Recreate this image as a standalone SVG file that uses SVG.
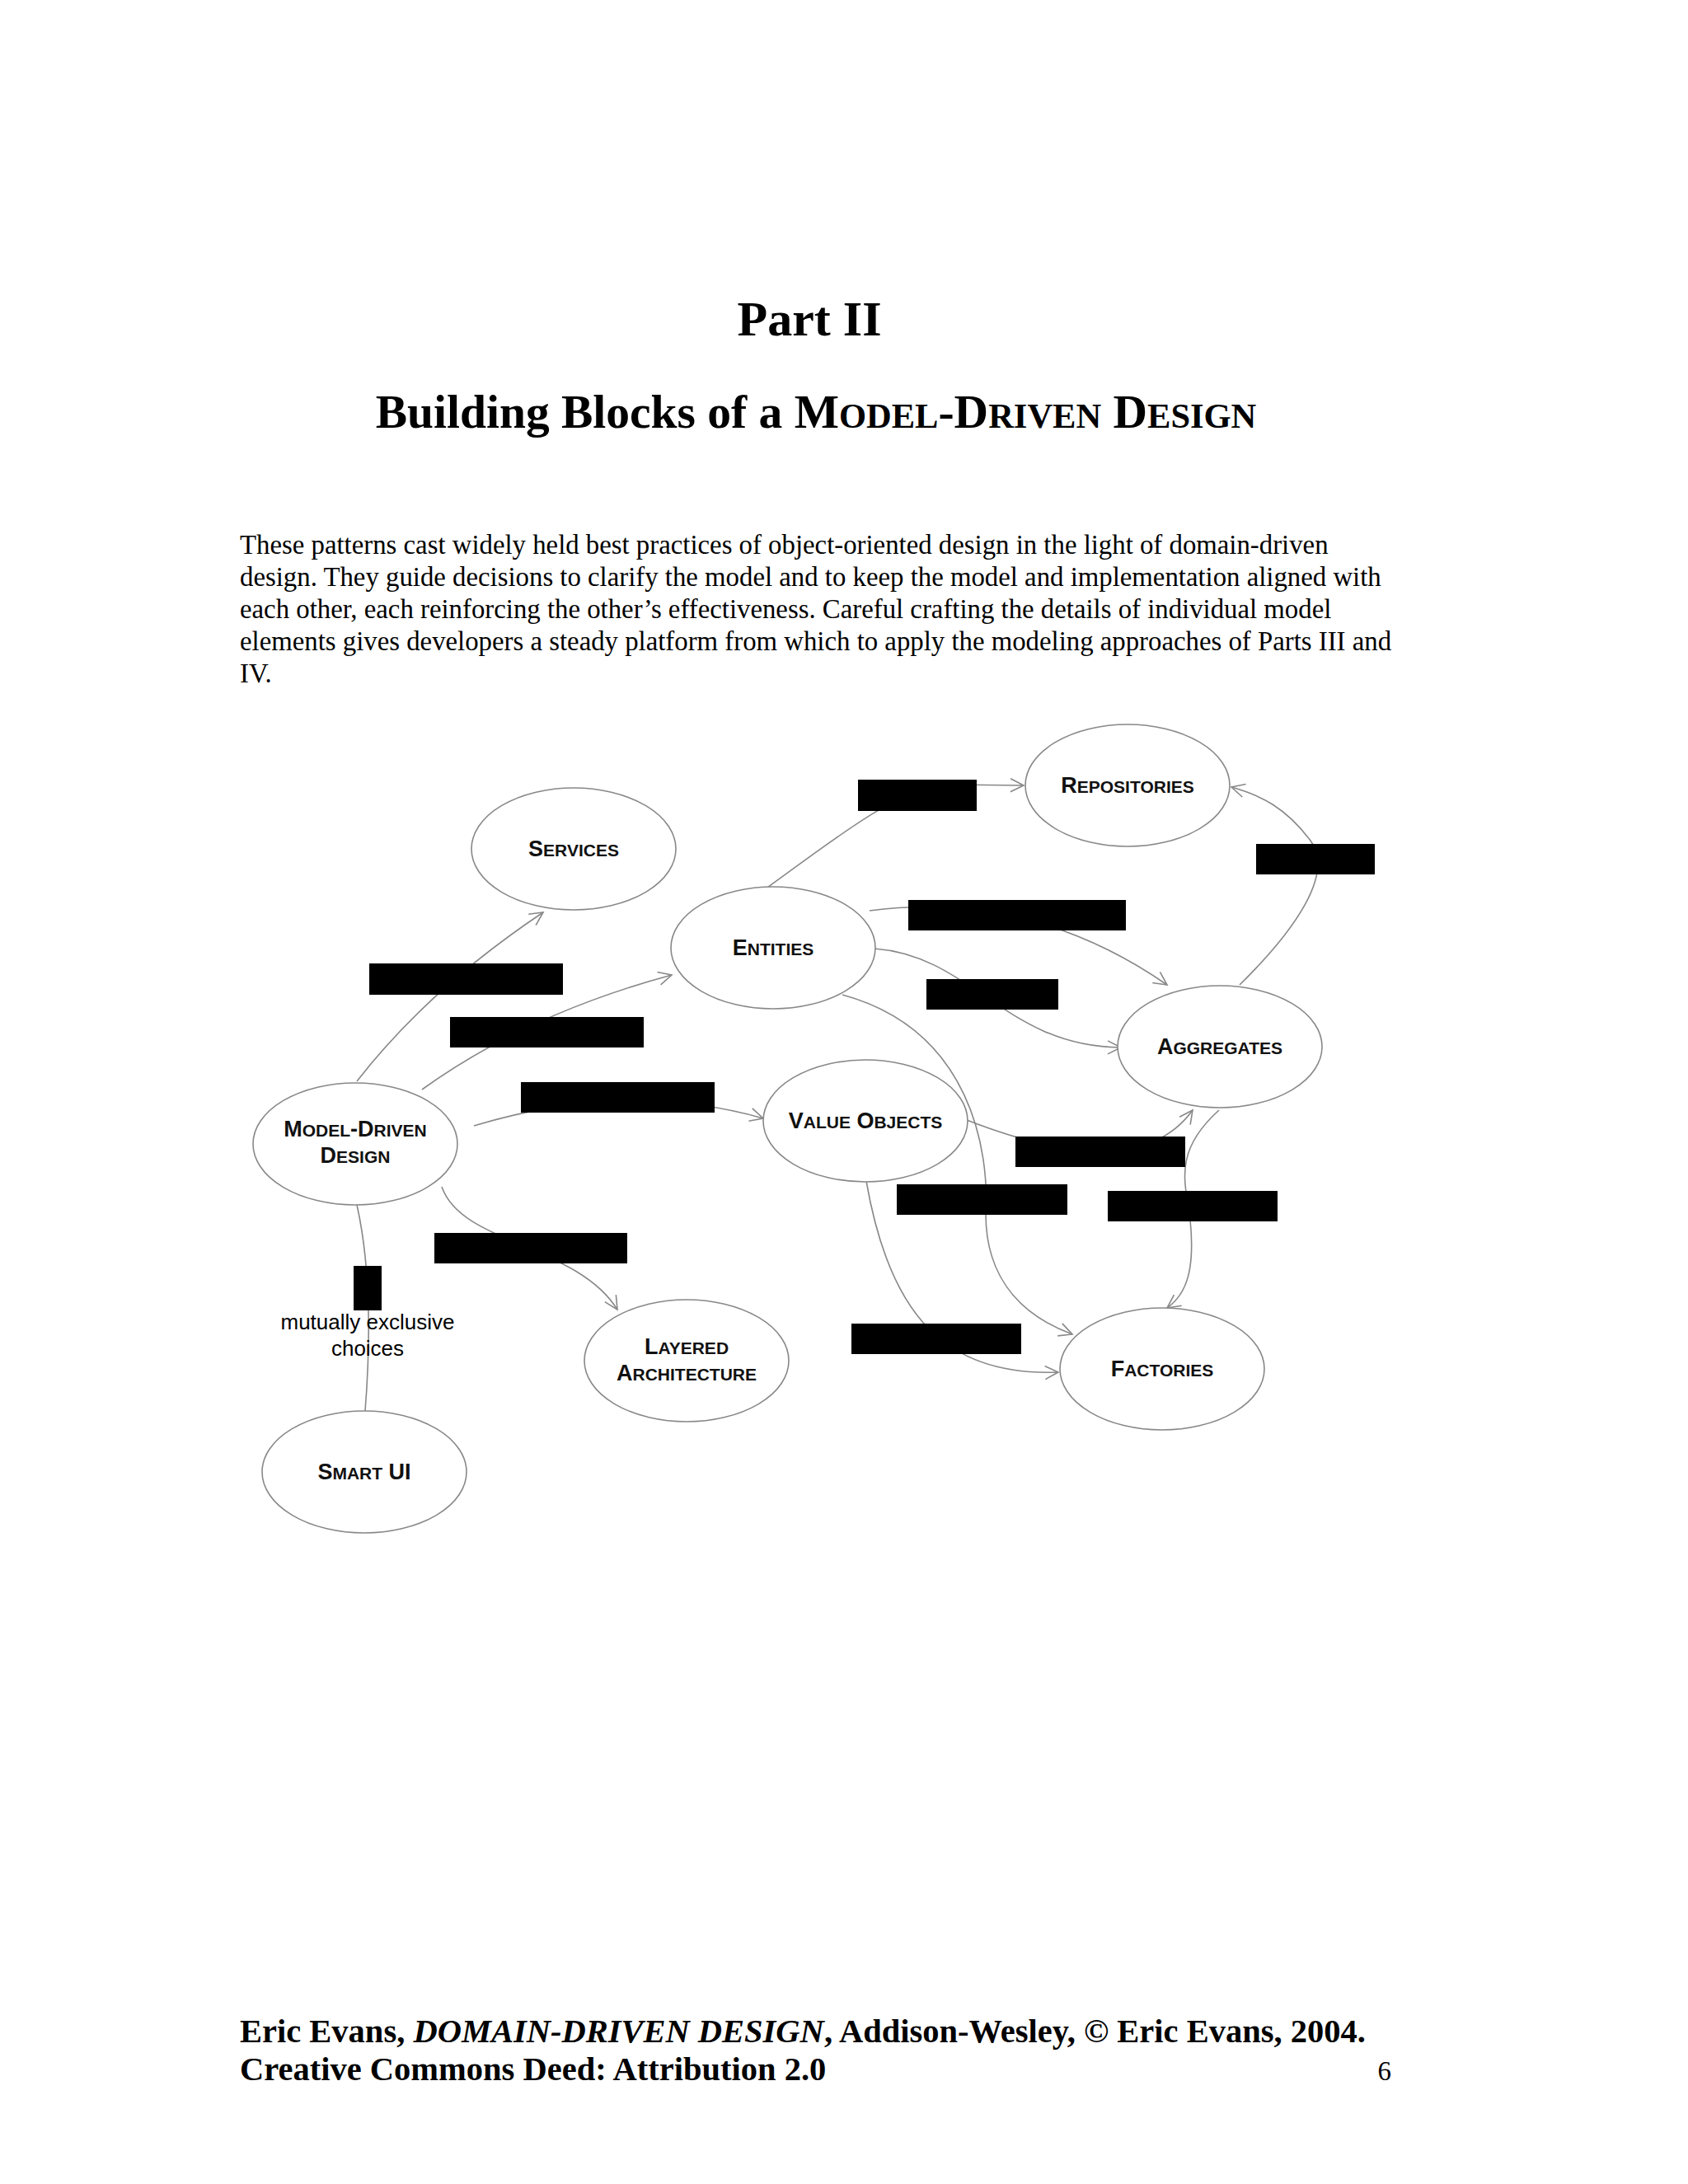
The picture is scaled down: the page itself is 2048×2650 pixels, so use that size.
<svg xmlns="http://www.w3.org/2000/svg" width="2048" height="2650" viewBox="0 0 2048 2650">
<style>
.n{fill:#fff;stroke:#888;stroke-width:1.6}
.c{fill:none;stroke:#888;stroke-width:1.6}
.l{font-family:"Liberation Sans",Arial,sans-serif;font-weight:bold;font-size:27px;text-anchor:middle;fill:#111}
.s{font-size:21px}
.b{fill:#000}
.p{font-family:"Liberation Serif","Times New Roman",serif;font-size:32.8px;fill:#000}
.h{font-family:"Liberation Serif","Times New Roman",serif;font-weight:bold;text-anchor:middle;fill:#000}
.f{font-family:"Liberation Serif","Times New Roman",serif;font-weight:bold;font-size:40.5px;fill:#000}
</style>
<defs>
<marker id="a" viewBox="0 0 20 20" refX="18" refY="10" markerWidth="20" markerHeight="20" markerUnits="userSpaceOnUse" orient="auto">
<path d="M2,2 L18,10 L2,18" fill="none" stroke="#888" stroke-width="1.6"/>
</marker>
</defs>
<rect width="2048" height="2650" fill="#fff"/>
<text class="h" x="982" y="407" font-size="60">Part II</text>
<text class="h" x="990" y="519" font-size="57.5">Building Blocks of a M<tspan font-size="42.5">ODEL</tspan>-D<tspan font-size="42.5">RIVEN</tspan> D<tspan font-size="42.5">ESIGN</tspan></text>
<text class="p" x="291" y="672">These patterns cast widely held best practices of object-oriented design in the light of domain-driven</text>
<text class="p" x="291" y="711">design. They guide decisions to clarify the model and to keep the model and implementation aligned with</text>
<text class="p" x="291" y="750">each other, each reinforcing the other’s effectiveness. Careful crafting the details of individual model</text>
<text class="p" x="291" y="789">elements gives developers a steady platform from which to apply the modeling approaches of Parts III and</text>
<text class="p" x="291" y="828">IV.</text>
<g id="connectors">
<path class="c" d="M433,1312 Q520,1200 659,1107" marker-end="url(#a)"/>
<path class="c" d="M512,1322 Q640,1230 815,1183" marker-end="url(#a)"/>
<path class="c" d="M575,1366 Q760,1310 926,1357" marker-end="url(#a)"/>
<path class="c" d="M536,1440 C560,1510 700,1510 749,1589" marker-end="url(#a)"/>
<path class="c" d="M433,1462 Q455,1560 443,1712"/>
<path class="c" d="M931,1077 C1010,1020 1090,955 1150,952 L1242,953" marker-end="url(#a)"/>
<path class="c" d="M1055,1105 Q1250,1080 1416,1195" marker-end="url(#a)"/>
<path class="c" d="M1061,1151 C1180,1160 1220,1270 1360,1271" marker-end="url(#a)"/>
<path class="c" d="M1022,1207 C1180,1250 1200,1400 1196,1470 C1195,1560 1250,1600 1301,1619" marker-end="url(#a)"/>
<path class="c" d="M1504,1195 C1570,1130 1620,1060 1590,1020 C1560,980 1530,965 1494,955" marker-end="url(#a)"/>
<path class="c" d="M1173,1359 Q1380,1440 1447,1347" marker-end="url(#a)"/>
<path class="c" d="M1051,1433 C1080,1600 1150,1670 1284,1665" marker-end="url(#a)"/>
<path class="c" d="M1479,1347 C1420,1400 1440,1440 1444,1480 C1450,1540 1440,1570 1416,1587" marker-end="url(#a)"/>
</g>
<g id="services"><ellipse class="n" cx="696" cy="1030" rx="124" ry="74"/><text class="l" x="696" y="1039">S<tspan class="s">ERVICES</tspan></text></g>
<g id="entities"><ellipse class="n" cx="938" cy="1150" rx="124" ry="74"/><text class="l" x="938" y="1159">E<tspan class="s">NTITIES</tspan></text></g>
<g id="repositories"><ellipse class="n" cx="1368" cy="953" rx="124" ry="74"/><text class="l" x="1368" y="962">R<tspan class="s">EPOSITORIES</tspan></text></g>
<g id="aggregates"><ellipse class="n" cx="1480" cy="1270" rx="124" ry="74"/><text class="l" x="1480" y="1279">A<tspan class="s">GGREGATES</tspan></text></g>
<g id="valueobjects"><ellipse class="n" cx="1050" cy="1360" rx="124" ry="74"/><text class="l" x="1050" y="1369">V<tspan class="s">ALUE</tspan> O<tspan class="s">BJECTS</tspan></text></g>
<g id="factories"><ellipse class="n" cx="1410" cy="1661" rx="124" ry="74"/><text class="l" x="1410" y="1670">F<tspan class="s">ACTORIES</tspan></text></g>
<g id="mdd"><ellipse class="n" cx="431" cy="1388" rx="124" ry="74"/><text class="l" x="431" y="1379">M<tspan class="s">ODEL</tspan>-D<tspan class="s">RIVEN</tspan></text><text class="l" x="431" y="1411">D<tspan class="s">ESIGN</tspan></text></g>
<g id="layered"><ellipse class="n" cx="833" cy="1651" rx="124" ry="74"/><text class="l" x="833" y="1643">L<tspan class="s">AYERED</tspan></text><text class="l" x="833" y="1675">A<tspan class="s">RCHITECTURE</tspan></text></g>
<g id="smartui"><ellipse class="n" cx="442" cy="1786" rx="124" ry="74"/><text class="l" x="442" y="1795">S<tspan class="s">MART</tspan> UI</text></g>
<g id="redactions">
<rect class="b" x="1041" y="946" width="144" height="38"/>
<rect class="b" x="1524" y="1024" width="144" height="37"/>
<rect class="b" x="448" y="1169" width="235" height="38"/>
<rect class="b" x="1102" y="1092" width="264" height="37"/>
<rect class="b" x="546" y="1234" width="235" height="37"/>
<rect class="b" x="1124" y="1188" width="160" height="37"/>
<rect class="b" x="632" y="1313" width="235" height="37"/>
<rect class="b" x="1232" y="1379" width="206" height="37"/>
<rect class="b" x="1088" y="1437" width="207" height="37"/>
<rect class="b" x="1344" y="1445" width="206" height="37"/>
<rect class="b" x="527" y="1496" width="234" height="37"/>
<rect class="b" x="429" y="1536" width="34" height="54"/>
<rect class="b" x="1033" y="1606" width="206" height="37"/>
</g>
<text font-family="Liberation Sans,Arial,sans-serif" font-size="26" text-anchor="middle" x="446" y="1613">mutually exclusive</text>
<text font-family="Liberation Sans,Arial,sans-serif" font-size="26" text-anchor="middle" x="446" y="1645">choices</text>
<text class="f" x="291" y="2478">Eric Evans, <tspan font-style="italic">DOMAIN-DRIVEN DESIGN</tspan>, Addison-Wesley, ©  Eric Evans, 2004.</text>
<text class="f" x="291" y="2524">Creative Commons Deed: Attribution 2.0</text>
<text class="p" x="1688" y="2524" font-size="38" text-anchor="end">6</text>
</svg>
